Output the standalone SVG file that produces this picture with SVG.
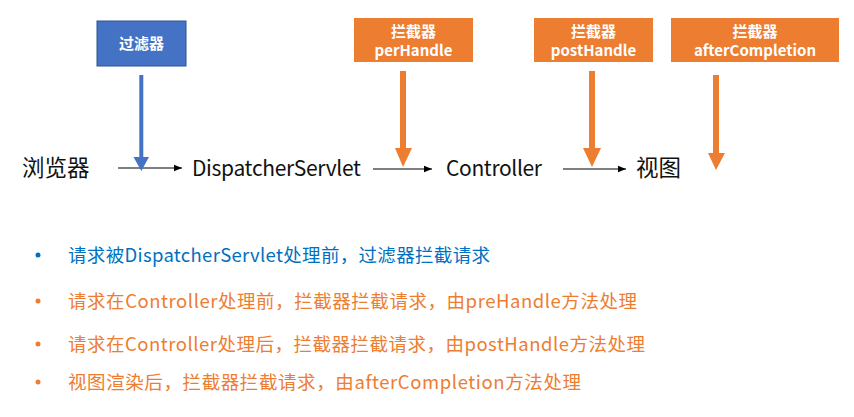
<svg xmlns="http://www.w3.org/2000/svg" width="854" height="417" viewBox="0 0 854 417">
<defs>
<style>
.t{font-family:"Noto Sans CJK SC","Noto Sans",sans-serif}
.main{font-size:21px;fill:#111}
.cjk{font-size:22.5px}
.box-b{fill:#4472C4;stroke:#2F528F;stroke-width:1}
.box-o{fill:#ED7D31}
.bt{font-size:15px;font-weight:bold;fill:#fff}
.blue{fill:#0070C0;font-size:18.5px}
.org{fill:#ED7D31;font-size:18.5px}
.flow{stroke:#000;stroke-width:1.2;fill:none}
</style>
<marker id="ah" viewBox="0 0 10 10" refX="10" refY="5" markerWidth="8" markerHeight="8" markerUnits="userSpaceOnUse" orient="auto">
<path d="M0,1 L10,5 L0,9 Z" fill="#000"/>
</marker>
</defs>
<rect width="854" height="417" fill="#fff"/>

<g id="filter">
<rect class="box-b" x="97" y="21" width="89" height="45"/>
<text class="t bt" x="141.5" y="49" text-anchor="middle">过滤器</text>
</g>
<g id="pre">
<rect class="box-o" x="354" y="18" width="119" height="44"/>
<text class="t bt" x="413.5" y="37" text-anchor="middle">拦截器</text>
<text class="t bt" x="413.5" y="56" text-anchor="middle">perHandle</text>
</g>
<g id="post">
<rect class="box-o" x="534" y="18" width="119" height="44"/>
<text class="t bt" x="593.5" y="37" text-anchor="middle">拦截器</text>
<text class="t bt" x="593.5" y="56" text-anchor="middle">postHandle</text>
</g>
<g id="after">
<rect class="box-o" x="671" y="18" width="168" height="44"/>
<text class="t bt" x="755" y="37" text-anchor="middle">拦截器</text>
<text class="t bt" x="755" y="56" text-anchor="middle">afterCompletion</text>
</g>

<g id="browser"><text class="t main cjk" x="22" y="176">浏览器</text></g>
<g id="dispatcher"><text class="t main" x="192" y="176" textLength="169">DispatcherServlet</text></g>
<g id="controller"><text class="t main" x="446" y="176" textLength="96">Controller</text></g>
<g id="view"><text class="t main cjk" x="636" y="176">视图</text></g>

<g id="connectors">
<line class="flow" x1="118" y1="168" x2="182" y2="168" marker-end="url(#ah)"/>
<line class="flow" x1="373" y1="169" x2="432" y2="169" marker-end="url(#ah)"/>
<line class="flow" x1="563" y1="169" x2="626" y2="169" marker-end="url(#ah)"/>
<path d="M139.3,75 H143.3 V157 H149 L141.3,171 L133.5,157 H139.3 Z" fill="#4472C4"/>
<path d="M400,71 H406 V148 H412 L403,167 L395,148 H400 Z" fill="#ED7D31"/>
<path d="M589,71 H595 V148 H601 L592,167 L583,148 H589 Z" fill="#ED7D31"/>
<path d="M713,75 H719 V153 H725 L716,170 L708,153 H713 Z" fill="#ED7D31"/>
</g>

<g id="notes">
<circle cx="38" cy="255" r="2.5" fill="#0070C0"/>
<text class="t blue" x="68" y="262" textLength="422">请求被DispatcherServlet处理前，过滤器拦截请求</text>
<circle cx="38" cy="301" r="2.5" fill="#ED7D31"/>
<text class="t org" x="68" y="308" textLength="569">请求在Controller处理前，拦截器拦截请求，由preHandle方法处理</text>
<circle cx="38" cy="344" r="2.5" fill="#ED7D31"/>
<text class="t org" x="68" y="351" textLength="577">请求在Controller处理后，拦截器拦截请求，由postHandle方法处理</text>
<circle cx="38" cy="382" r="2.5" fill="#ED7D31"/>
<text class="t org" x="68" y="389" textLength="513">视图渲染后，拦截器拦截请求，由afterCompletion方法处理</text>
</g>
</svg>
